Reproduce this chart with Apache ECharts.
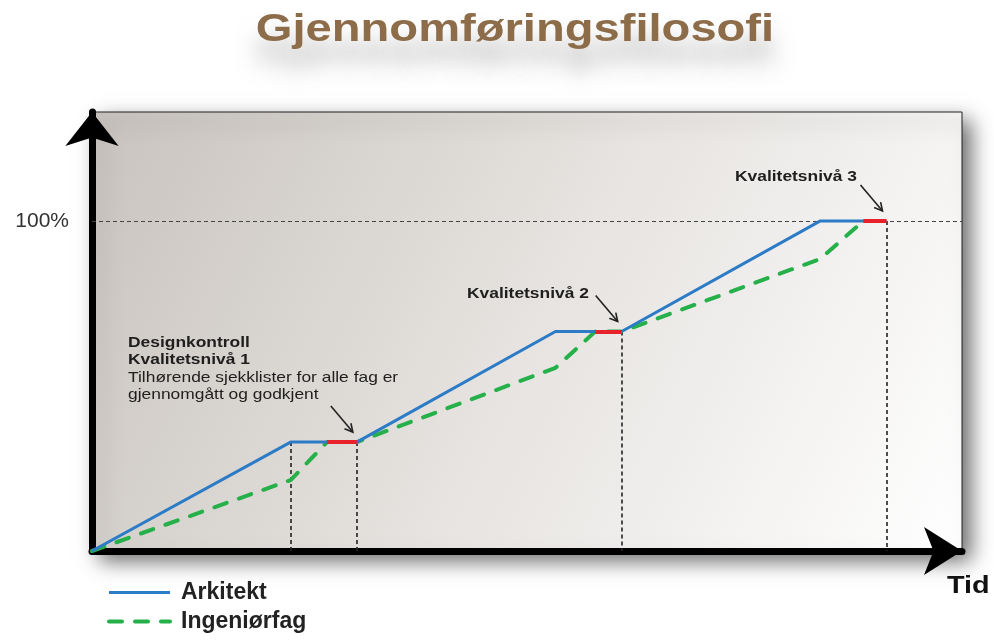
<!DOCTYPE html>
<html><head><meta charset="utf-8">
<script src="https://cdn.jsdelivr.net/npm/echarts@6/dist/echarts.min.js"></script>
<style>html,body{margin:0;padding:0;background:#fff}#c{width:994px;height:640px}</style>
</head><body><div id="c"></div>
<script>
// ---- data ----
const titleText = 'Gjennomføringsfilosofi';
const seriesNames = ['Arkitekt', 'Ingeniørfag'];
const xAxisName = 'Tid';
const yTickValues = [100];
const arkitektX = [0, 3, 4, 7, 8, 11, 12];
const arkitektY = [0, 33, 33, 66.5, 66.5, 100, 100];
const ingeniorX = [0, 3, 3.55, 4, 7, 7.6, 8, 11, 11.65, 12];
const ingeniorY = [0, 21.5, 33, 33, 55.5, 66.5, 66.5, 88.5, 100, 100];
const kontrollStart = [3.55, 7.6, 11.65];
const kontrollEnd = [4, 8, 12];
const kontrollLevel = [33, 66.5, 100];
const guideX = [3, 4, 8, 12];
const guideY = [33, 33, 66.5, 100];
const note1Lines = ['Designkontroll', 'Kvalitetsnivå 1', 'Tilhørende sjekklister for alle fag er', 'gjennomgått og godkjent'];
const note2 = 'Kvalitetsnivå 2';
const note3 = 'Kvalitetsnivå 3';

const X_MAX = 13.14, Y_MAX = 133;
const FONT = '"Liberation Sans", Arial, sans-serif';
const BLUE = '#2b7bc6', GREEN = '#25b04a', RED = '#e8222a';

const chart = echarts.init(document.getElementById('c'), null, {renderer: 'canvas'});

const option = {
  animation: false,
  backgroundColor: '#ffffff',
  grid: {
    left: 92, right: 32, top: 112, bottom: 89,
    show: true,
    borderColor: '#222', borderWidth: 1,
    backgroundColor: {
      type: 'linear', x: 0, y: 0, x2: 1, y2: 1,
      colorStops: [
        {offset: 0, color: '#c8c3be'},
        {offset: 0.5, color: '#e6e3e0'},
        {offset: 1, color: '#ffffff'}
      ]
    },
    shadowColor: 'rgba(0,0,0,0.6)', shadowBlur: 20, shadowOffsetX: 8, shadowOffsetY: 9
  },
  legend: {
    data: [
      {name: seriesNames[0], lineStyle: {width: 3, color: BLUE}},
      {name: seriesNames[1], lineStyle: {width: 4, color: GREEN, type: [13, 13], cap: 'round'}}
    ],
    orient: 'vertical',
    left: 107, top: 581, padding: 0,
    itemWidth: 61, itemHeight: 14, itemGap: 6,
    itemStyle: {opacity: 0},
    textStyle: {fontFamily: FONT, fontWeight: 'bold', fontSize: 23, color: '#222', lineHeight: 23, padding: [0, 0, 0, 6]}
  },
  xAxis: {
    type: 'value', min: 0, max: X_MAX, offset: 3,
    axisLine: {show: true, lineStyle: {color: '#000', width: 7}, symbol: ['none', 'arrow'], symbolSize: [36, 38], symbolOffset: [0, 0]},
    axisTick: {show: false}, axisLabel: {show: false}, splitLine: {show: false}
  },
  yAxis: {
    type: 'value', min: 0, max: Y_MAX, offset: 1,
    axisLine: {show: true, lineStyle: {color: '#000', width: 7}, symbol: ['none', 'arrow'], symbolSize: [40, 34], symbolOffset: [0, 0]},
    axisTick: {show: false},
    axisLabel: {show: true, customValues: yTickValues, formatter: v => v + '%', fontFamily: FONT, fontSize: 21, color: '#333', margin: 22, padding: [0, 0, 8, 0]},
    splitLine: {show: false}
  },
  series: [
    {
      name: 'guides', type: 'lines', coordinateSystem: 'cartesian2d', silent: true, z: 1,
      lineStyle: {color: '#222', width: 1.6, type: [4, 3], opacity: 1},
      data: guideX.map((x, i) => ({coords: [[x, guideY[i]], [x, 0]]})).concat([{coords: [[0, 100], [X_MAX, 100]], lineStyle: {color: '#444', width: 1.2, type: [4, 3]}}])
    },
    {
      name: seriesNames[1], type: 'line', z: 2, symbol: 'none', showSymbol: false,
      lineStyle: {color: GREEN, width: 4, type: [13, 13], cap: 'round'},
      itemStyle: {color: GREEN},
      data: ingeniorX.map((x, i) => [x, ingeniorY[i]])
    },
    {
      name: seriesNames[0], type: 'line', z: 3, symbol: 'none', showSymbol: false,
      lineStyle: {color: BLUE, width: 3},
      itemStyle: {color: BLUE},
      data: arkitektX.map((x, i) => [x, arkitektY[i]])
    },
    {
      name: 'Kontroll', type: 'lines', coordinateSystem: 'cartesian2d', silent: true, z: 4,
      lineStyle: {color: RED, width: 4, opacity: 1},
      data: kontrollStart.map((x, i) => ({coords: [[x, kontrollLevel[i]], [kontrollEnd[i], kontrollLevel[i]]]}))
    }
  ]
};
chart.setOption(option);

// ---- annotations (text + arrows) ----
function txt(str, x, y, opts, sx) {
  return {
    type: 'text', x: x, y: y, scaleX: sx || 1.16, z: 100, silent: true,
    style: Object.assign({text: str, fill: '#1e1e1e', font: 'bold 15px ' + FONT, textAlign: 'left', textVerticalAlign: 'middle'}, opts || {})
  };
}
const g = [];
g.push({
  type: 'text', x: 515, y: 31, scaleX: 1.24, z: 100, silent: true,
  style: {text: titleText, fill: '#8d6c4a', font: 'bold 38px ' + FONT, textAlign: 'center', textVerticalAlign: 'middle',
    textShadowColor: 'rgba(0,0,0,0.28)', textShadowBlur: 22, textShadowOffsetY: 22}
});
const noteY = [343, 360, 378, 395];
note1Lines.forEach((s, i) => {
  g.push(txt(s, 128, noteY[i], i < 2 ? {} : {font: '15px ' + FONT}));
});
g.push(txt(note2, 467, 294));
g.push(txt(note3, 735, 177));
g.push(txt(xAxisName, 947, 586, {font: 'bold 24px ' + FONT, fill: '#111'}, 1.2));

kontrollEnd.forEach((x, i) => {
  const p = chart.convertToPixel({gridIndex: 0}, [x, kontrollLevel[i]]);
  const end = [p[0] - 4, p[1] - 10];
  const start = [end[0] - 22, end[1] - 26];
  const dx = end[0] - start[0], dy = end[1] - start[1];
  const len = Math.hypot(dx, dy), ux = dx / len, uy = dy / len;
  const hl = 9, a = 28 * Math.PI / 180;
  const rot = (ang) => [ux * Math.cos(ang) - uy * Math.sin(ang), ux * Math.sin(ang) + uy * Math.cos(ang)];
  const r1 = rot(a), r2 = rot(-a);
  g.push({type: 'line', z: 100, silent: true, shape: {x1: start[0], y1: start[1], x2: end[0], y2: end[1]}, style: {stroke: '#222', lineWidth: 1.6}});
  g.push({type: 'polyline', z: 100, silent: true,
    shape: {points: [[end[0] - hl * r1[0], end[1] - hl * r1[1]], end, [end[0] - hl * r2[0], end[1] - hl * r2[1]]]},
    style: {stroke: '#222', lineWidth: 1.6, fill: null}});
});
chart.setOption({graphic: {elements: g}});
</script>
</body></html>
